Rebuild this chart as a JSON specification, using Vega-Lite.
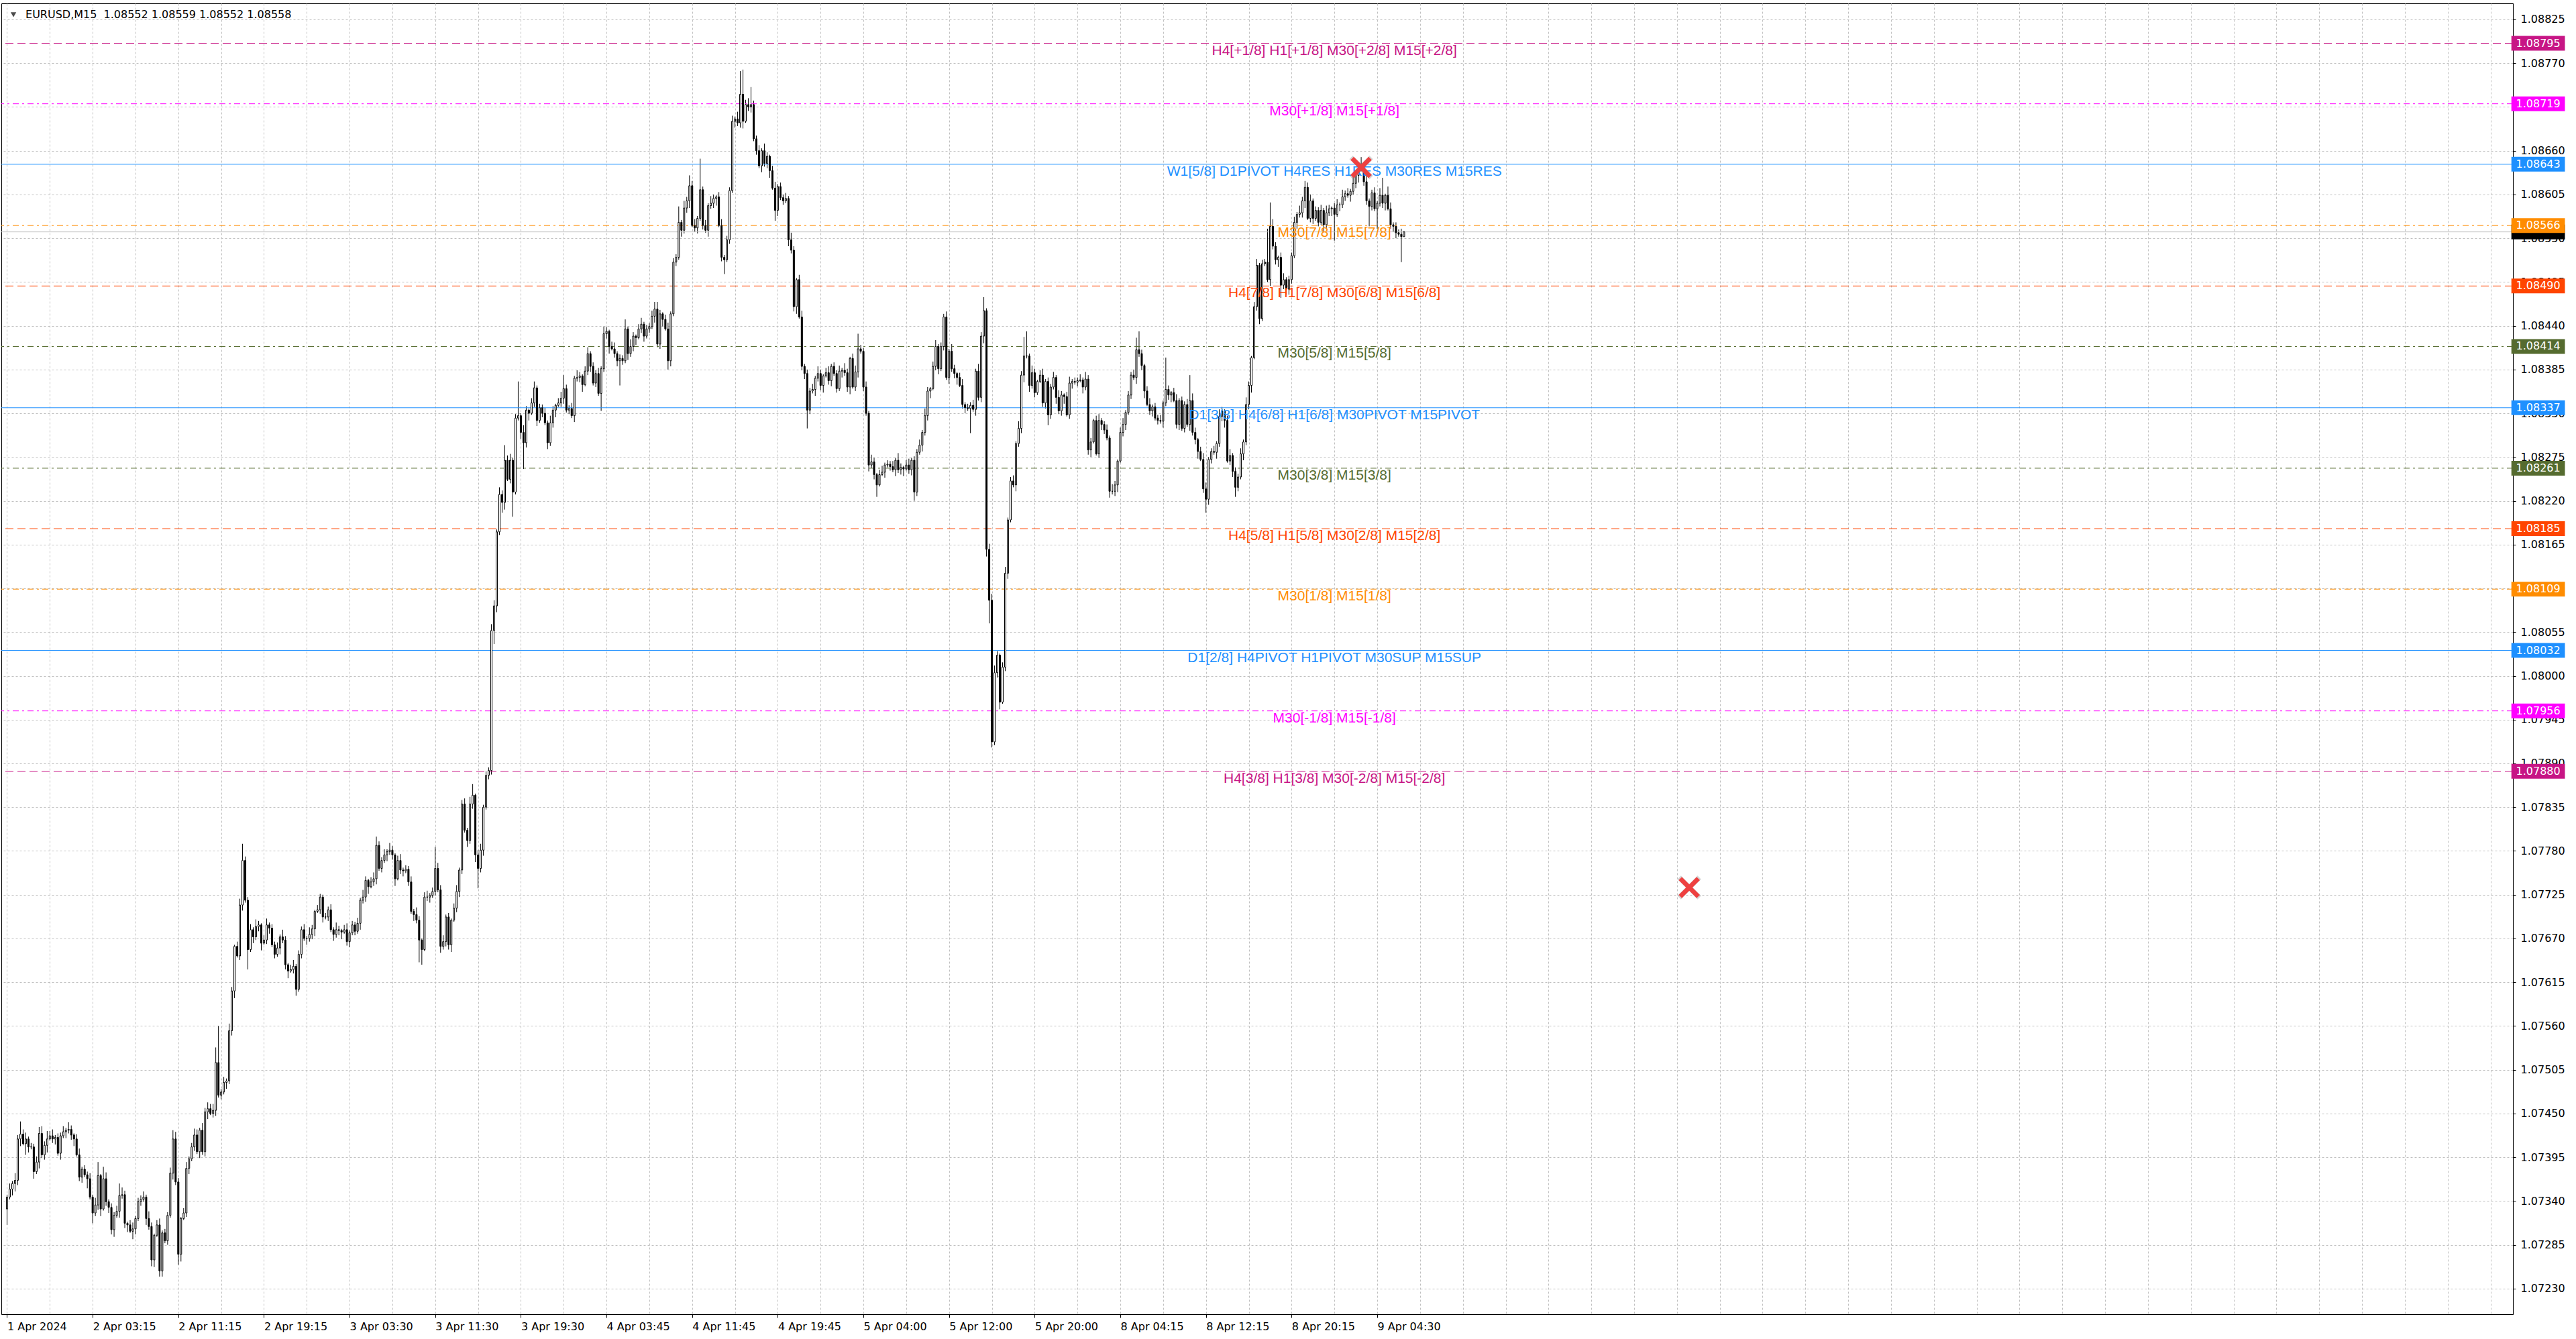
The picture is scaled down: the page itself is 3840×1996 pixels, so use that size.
{
"$schema": "https://vega.github.io/schema/vega-lite/v6.json",
"width": 3744,
"height": 1954,
"autosize": {"type": "none"},
"padding": {"left": 2, "top": 5, "right": 94, "bottom": 37},
"background": "#ffffff",
"config": {"view": {"stroke": "#000000", "strokeWidth": 1}, "axis": {"title": null}},
"datasets": {
"levels": [
{"p":1.08795,"g":"g2","t":"H4[+1/8] H1[+1/8] M30[+2/8] M15[+2/8]"},
{"p":1.08719,"g":"g1","t":"M30[+1/8] M15[+1/8]"},
{"p":1.08643,"g":"res","t":"W1[5/8] D1PIVOT H4RES H1RES M30RES M15RES"},
{"p":1.08566,"g":"g7","t":"M30[7/8] M15[7/8]"},
{"p":1.08490,"g":"g6","t":"H4[7/8] H1[7/8] M30[6/8] M15[6/8]"},
{"p":1.08414,"g":"g5","t":"M30[5/8] M15[5/8]"},
{"p":1.08337,"g":"piv","t":"D1[3/8] H4[6/8] H1[6/8] M30PIVOT M15PIVOT"},
{"p":1.08261,"g":"g5","t":"M30[3/8] M15[3/8]"},
{"p":1.08185,"g":"g6","t":"H4[5/8] H1[5/8] M30[2/8] M15[2/8]"},
{"p":1.08109,"g":"g7","t":"M30[1/8] M15[1/8]"},
{"p":1.08032,"g":"sup","t":"D1[2/8] H4PIVOT H1PIVOT M30SUP M15SUP"},
{"p":1.07956,"g":"g1","t":"M30[-1/8] M15[-1/8]"},
{"p":1.07880,"g":"g2","t":"H4[3/8] H1[3/8] M30[-2/8] M15[-2/8]"}
],
"bid": [{"p":1.08558}],
"crosses": [{"i":506,"p":1.08639},{"i":628.6,"p":1.07734}],
"candles": [
{"i":0,"o":1.07330,"h":1.07348,"l":1.07310,"c":1.07345},
{"i":1,"o":1.07345,"h":1.07362,"l":1.07342,"c":1.07355},
{"i":2,"o":1.07355,"h":1.07365,"l":1.07347,"c":1.07362},
{"i":3,"o":1.07362,"h":1.07375,"l":1.07352,"c":1.07366},
{"i":4,"o":1.07366,"h":1.07423,"l":1.07360,"c":1.07418},
{"i":5,"o":1.07418,"h":1.07440,"l":1.07409,"c":1.07424},
{"i":6,"o":1.07424,"h":1.07430,"l":1.07410,"c":1.07412},
{"i":7,"o":1.07412,"h":1.07426,"l":1.07398,"c":1.07418},
{"i":8,"o":1.07418,"h":1.07421,"l":1.07401,"c":1.07408},
{"i":9,"o":1.07408,"h":1.07413,"l":1.07405,"c":1.07408},
{"i":10,"o":1.07408,"h":1.07412,"l":1.07368,"c":1.07377},
{"i":11,"o":1.07377,"h":1.07396,"l":1.07374,"c":1.07389},
{"i":12,"o":1.07389,"h":1.07433,"l":1.07381,"c":1.07425},
{"i":13,"o":1.07425,"h":1.07434,"l":1.07394,"c":1.07398},
{"i":14,"o":1.07398,"h":1.07415,"l":1.07392,"c":1.07410},
{"i":15,"o":1.07410,"h":1.07428,"l":1.07401,"c":1.07418},
{"i":16,"o":1.07418,"h":1.07428,"l":1.07416,"c":1.07422},
{"i":17,"o":1.07422,"h":1.07430,"l":1.07413,"c":1.07418},
{"i":18,"o":1.07418,"h":1.07423,"l":1.07411,"c":1.07420},
{"i":19,"o":1.07420,"h":1.07425,"l":1.07397,"c":1.07400},
{"i":20,"o":1.07400,"h":1.07426,"l":1.07392,"c":1.07422},
{"i":21,"o":1.07422,"h":1.07434,"l":1.07419,"c":1.07427},
{"i":22,"o":1.07427,"h":1.07432,"l":1.07419,"c":1.07429},
{"i":23,"o":1.07429,"h":1.07439,"l":1.07425,"c":1.07430},
{"i":24,"o":1.07430,"h":1.07435,"l":1.07417,"c":1.07423},
{"i":25,"o":1.07423,"h":1.07425,"l":1.07409,"c":1.07418},
{"i":26,"o":1.07418,"h":1.07424,"l":1.07396,"c":1.07398},
{"i":27,"o":1.07398,"h":1.07406,"l":1.07365,"c":1.07370},
{"i":28,"o":1.07370,"h":1.07383,"l":1.07363,"c":1.07380},
{"i":29,"o":1.07380,"h":1.07385,"l":1.07370,"c":1.07373},
{"i":30,"o":1.07373,"h":1.07377,"l":1.07356,"c":1.07368},
{"i":31,"o":1.07368,"h":1.07375,"l":1.07342,"c":1.07345},
{"i":32,"o":1.07345,"h":1.07348,"l":1.07312,"c":1.07325},
{"i":33,"o":1.07325,"h":1.07344,"l":1.07321,"c":1.07335},
{"i":34,"o":1.07335,"h":1.07389,"l":1.07329,"c":1.07372},
{"i":35,"o":1.07372,"h":1.07374,"l":1.07321,"c":1.07330},
{"i":36,"o":1.07330,"h":1.07383,"l":1.07328,"c":1.07368},
{"i":37,"o":1.07368,"h":1.07376,"l":1.07334,"c":1.07339},
{"i":38,"o":1.07339,"h":1.07342,"l":1.07325,"c":1.07332},
{"i":39,"o":1.07332,"h":1.07337,"l":1.07298,"c":1.07304},
{"i":40,"o":1.07304,"h":1.07326,"l":1.07295,"c":1.07322},
{"i":41,"o":1.07322,"h":1.07334,"l":1.07319,"c":1.07327},
{"i":42,"o":1.07327,"h":1.07362,"l":1.07319,"c":1.07347},
{"i":43,"o":1.07347,"h":1.07357,"l":1.07343,"c":1.07348},
{"i":44,"o":1.07348,"h":1.07353,"l":1.07306,"c":1.07312},
{"i":45,"o":1.07312,"h":1.07314,"l":1.07301,"c":1.07310},
{"i":46,"o":1.07310,"h":1.07316,"l":1.07300,"c":1.07302},
{"i":47,"o":1.07302,"h":1.07313,"l":1.07292,"c":1.07305},
{"i":48,"o":1.07305,"h":1.07321,"l":1.07298,"c":1.07318},
{"i":49,"o":1.07318,"h":1.07344,"l":1.07315,"c":1.07339},
{"i":50,"o":1.07339,"h":1.07347,"l":1.07334,"c":1.07342},
{"i":51,"o":1.07342,"h":1.07352,"l":1.07339,"c":1.07345},
{"i":52,"o":1.07345,"h":1.07348,"l":1.07310,"c":1.07318},
{"i":53,"o":1.07318,"h":1.07327,"l":1.07304,"c":1.07308},
{"i":54,"o":1.07308,"h":1.07313,"l":1.07258,"c":1.07266},
{"i":55,"o":1.07266,"h":1.07299,"l":1.07257,"c":1.07297},
{"i":56,"o":1.07297,"h":1.07316,"l":1.07295,"c":1.07310},
{"i":57,"o":1.07310,"h":1.07318,"l":1.07245,"c":1.07252},
{"i":58,"o":1.07252,"h":1.07303,"l":1.07245,"c":1.07300},
{"i":59,"o":1.07300,"h":1.07305,"l":1.07287,"c":1.07290},
{"i":60,"o":1.07290,"h":1.07326,"l":1.07285,"c":1.07322},
{"i":61,"o":1.07322,"h":1.07382,"l":1.07319,"c":1.07375},
{"i":62,"o":1.07375,"h":1.07429,"l":1.07367,"c":1.07418},
{"i":63,"o":1.07418,"h":1.07427,"l":1.07360,"c":1.07364},
{"i":64,"o":1.07364,"h":1.07369,"l":1.07260,"c":1.07273},
{"i":65,"o":1.07273,"h":1.07320,"l":1.07264,"c":1.07318},
{"i":66,"o":1.07318,"h":1.07331,"l":1.07316,"c":1.07325},
{"i":67,"o":1.07325,"h":1.07389,"l":1.07320,"c":1.07381},
{"i":68,"o":1.07381,"h":1.07396,"l":1.07374,"c":1.07393},
{"i":69,"o":1.07393,"h":1.07413,"l":1.07390,"c":1.07408},
{"i":70,"o":1.07408,"h":1.07431,"l":1.07403,"c":1.07423},
{"i":71,"o":1.07423,"h":1.07430,"l":1.07399,"c":1.07402},
{"i":72,"o":1.07402,"h":1.07432,"l":1.07394,"c":1.07429},
{"i":73,"o":1.07429,"h":1.07438,"l":1.07398,"c":1.07402},
{"i":74,"o":1.07402,"h":1.07457,"l":1.07396,"c":1.07452},
{"i":75,"o":1.07452,"h":1.07464,"l":1.07443,"c":1.07456},
{"i":76,"o":1.07456,"h":1.07462,"l":1.07448,"c":1.07450},
{"i":77,"o":1.07450,"h":1.07462,"l":1.07445,"c":1.07454},
{"i":78,"o":1.07454,"h":1.07533,"l":1.07447,"c":1.07514},
{"i":79,"o":1.07514,"h":1.07560,"l":1.07470,"c":1.07473},
{"i":80,"o":1.07473,"h":1.07481,"l":1.07468,"c":1.07477},
{"i":81,"o":1.07477,"h":1.07496,"l":1.07474,"c":1.07489},
{"i":82,"o":1.07489,"h":1.07494,"l":1.07481,"c":1.07491},
{"i":83,"o":1.07491,"h":1.07563,"l":1.07487,"c":1.07554},
{"i":84,"o":1.07554,"h":1.07609,"l":1.07548,"c":1.07604},
{"i":85,"o":1.07604,"h":1.07662,"l":1.07595,"c":1.07660},
{"i":86,"o":1.07660,"h":1.07666,"l":1.07646,"c":1.07648},
{"i":87,"o":1.07648,"h":1.07720,"l":1.07643,"c":1.07712},
{"i":88,"o":1.07712,"h":1.07789,"l":1.07705,"c":1.07768},
{"i":89,"o":1.07768,"h":1.07773,"l":1.07715,"c":1.07718},
{"i":90,"o":1.07718,"h":1.07722,"l":1.07631,"c":1.07656},
{"i":91,"o":1.07656,"h":1.07688,"l":1.07653,"c":1.07681},
{"i":92,"o":1.07681,"h":1.07684,"l":1.07664,"c":1.07672},
{"i":93,"o":1.07672,"h":1.07694,"l":1.07668,"c":1.07685},
{"i":94,"o":1.07685,"h":1.07692,"l":1.07679,"c":1.07687},
{"i":95,"o":1.07687,"h":1.07689,"l":1.07655,"c":1.07664},
{"i":96,"o":1.07664,"h":1.07674,"l":1.07662,"c":1.07668},
{"i":97,"o":1.07668,"h":1.07695,"l":1.07663,"c":1.07687},
{"i":98,"o":1.07687,"h":1.07690,"l":1.07676,"c":1.07683},
{"i":99,"o":1.07683,"h":1.07688,"l":1.07659,"c":1.07662},
{"i":100,"o":1.07662,"h":1.07666,"l":1.07645,"c":1.07650},
{"i":101,"o":1.07650,"h":1.07665,"l":1.07647,"c":1.07658},
{"i":102,"o":1.07658,"h":1.07675,"l":1.07650,"c":1.07672},
{"i":103,"o":1.07672,"h":1.07681,"l":1.07664,"c":1.07668},
{"i":104,"o":1.07668,"h":1.07673,"l":1.07631,"c":1.07637},
{"i":105,"o":1.07637,"h":1.07639,"l":1.07620,"c":1.07629},
{"i":106,"o":1.07629,"h":1.07637,"l":1.07627,"c":1.07631},
{"i":107,"o":1.07631,"h":1.07643,"l":1.07626,"c":1.07635},
{"i":108,"o":1.07635,"h":1.07638,"l":1.07598,"c":1.07606},
{"i":109,"o":1.07606,"h":1.07655,"l":1.07603,"c":1.07650},
{"i":110,"o":1.07650,"h":1.07685,"l":1.07645,"c":1.07681},
{"i":111,"o":1.07681,"h":1.07688,"l":1.07667,"c":1.07670},
{"i":112,"o":1.07670,"h":1.07673,"l":1.07662,"c":1.07670},
{"i":113,"o":1.07670,"h":1.07684,"l":1.07666,"c":1.07675},
{"i":114,"o":1.07675,"h":1.07687,"l":1.07669,"c":1.07682},
{"i":115,"o":1.07682,"h":1.07706,"l":1.07673,"c":1.07704},
{"i":116,"o":1.07704,"h":1.07712,"l":1.07702,"c":1.07706},
{"i":117,"o":1.07706,"h":1.07726,"l":1.07701,"c":1.07722},
{"i":118,"o":1.07722,"h":1.07725,"l":1.07690,"c":1.07697},
{"i":119,"o":1.07697,"h":1.07702,"l":1.07694,"c":1.07697},
{"i":120,"o":1.07697,"h":1.07710,"l":1.07692,"c":1.07706},
{"i":121,"o":1.07706,"h":1.07713,"l":1.07678,"c":1.07681},
{"i":122,"o":1.07681,"h":1.07684,"l":1.07667,"c":1.07675},
{"i":123,"o":1.07675,"h":1.07690,"l":1.07671,"c":1.07681},
{"i":124,"o":1.07681,"h":1.07686,"l":1.07674,"c":1.07680},
{"i":125,"o":1.07680,"h":1.07682,"l":1.07669,"c":1.07678},
{"i":126,"o":1.07678,"h":1.07687,"l":1.07676,"c":1.07681},
{"i":127,"o":1.07681,"h":1.07689,"l":1.07661,"c":1.07666},
{"i":128,"o":1.07666,"h":1.07680,"l":1.07659,"c":1.07677},
{"i":129,"o":1.07677,"h":1.07692,"l":1.07674,"c":1.07687},
{"i":130,"o":1.07687,"h":1.07691,"l":1.07674,"c":1.07679},
{"i":131,"o":1.07679,"h":1.07696,"l":1.07676,"c":1.07689},
{"i":132,"o":1.07689,"h":1.07721,"l":1.07681,"c":1.07718},
{"i":133,"o":1.07718,"h":1.07731,"l":1.07714,"c":1.07722},
{"i":134,"o":1.07722,"h":1.07748,"l":1.07716,"c":1.07743},
{"i":135,"o":1.07743,"h":1.07745,"l":1.07726,"c":1.07735},
{"i":136,"o":1.07735,"h":1.07747,"l":1.07733,"c":1.07741},
{"i":137,"o":1.07741,"h":1.07753,"l":1.07736,"c":1.07745},
{"i":138,"o":1.07745,"h":1.07798,"l":1.07738,"c":1.07787},
{"i":139,"o":1.07787,"h":1.07792,"l":1.07755,"c":1.07758},
{"i":140,"o":1.07758,"h":1.07772,"l":1.07753,"c":1.07768},
{"i":141,"o":1.07768,"h":1.07782,"l":1.07765,"c":1.07775},
{"i":142,"o":1.07775,"h":1.07782,"l":1.07767,"c":1.07779},
{"i":143,"o":1.07779,"h":1.07790,"l":1.07775,"c":1.07781},
{"i":144,"o":1.07781,"h":1.07786,"l":1.07769,"c":1.07775},
{"i":145,"o":1.07775,"h":1.07777,"l":1.07736,"c":1.07745},
{"i":146,"o":1.07745,"h":1.07774,"l":1.07743,"c":1.07768},
{"i":147,"o":1.07768,"h":1.07776,"l":1.07751,"c":1.07756},
{"i":148,"o":1.07756,"h":1.07759,"l":1.07748,"c":1.07755},
{"i":149,"o":1.07755,"h":1.07762,"l":1.07752,"c":1.07757},
{"i":150,"o":1.07757,"h":1.07761,"l":1.07736,"c":1.07741},
{"i":151,"o":1.07741,"h":1.07748,"l":1.07701,"c":1.07704},
{"i":152,"o":1.07704,"h":1.07707,"l":1.07692,"c":1.07700},
{"i":153,"o":1.07700,"h":1.07709,"l":1.07689,"c":1.07693},
{"i":154,"o":1.07693,"h":1.07698,"l":1.07640,"c":1.07668},
{"i":155,"o":1.07668,"h":1.07670,"l":1.07637,"c":1.07656},
{"i":156,"o":1.07656,"h":1.07728,"l":1.07654,"c":1.07722},
{"i":157,"o":1.07722,"h":1.07730,"l":1.07717,"c":1.07722},
{"i":158,"o":1.07722,"h":1.07727,"l":1.07715,"c":1.07724},
{"i":159,"o":1.07724,"h":1.07734,"l":1.07721,"c":1.07729},
{"i":160,"o":1.07729,"h":1.07785,"l":1.07724,"c":1.07758},
{"i":161,"o":1.07758,"h":1.07765,"l":1.07728,"c":1.07731},
{"i":162,"o":1.07731,"h":1.07737,"l":1.07652,"c":1.07660},
{"i":163,"o":1.07660,"h":1.07674,"l":1.07656,"c":1.07666},
{"i":164,"o":1.07666,"h":1.07700,"l":1.07660,"c":1.07697},
{"i":165,"o":1.07697,"h":1.07702,"l":1.07656,"c":1.07662},
{"i":166,"o":1.07662,"h":1.07695,"l":1.07653,"c":1.07693},
{"i":167,"o":1.07693,"h":1.07714,"l":1.07691,"c":1.07708},
{"i":168,"o":1.07708,"h":1.07737,"l":1.07703,"c":1.07729},
{"i":169,"o":1.07729,"h":1.07759,"l":1.07722,"c":1.07756},
{"i":170,"o":1.07756,"h":1.07844,"l":1.07751,"c":1.07839},
{"i":171,"o":1.07839,"h":1.07846,"l":1.07803,"c":1.07806},
{"i":172,"o":1.07806,"h":1.07809,"l":1.07785,"c":1.07793},
{"i":173,"o":1.07793,"h":1.07848,"l":1.07789,"c":1.07839},
{"i":174,"o":1.07839,"h":1.07864,"l":1.07833,"c":1.07850},
{"i":175,"o":1.07850,"h":1.07852,"l":1.07766,"c":1.07775},
{"i":176,"o":1.07775,"h":1.07781,"l":1.07733,"c":1.07758},
{"i":177,"o":1.07758,"h":1.07789,"l":1.07753,"c":1.07781},
{"i":178,"o":1.07781,"h":1.07838,"l":1.07774,"c":1.07835},
{"i":179,"o":1.07835,"h":1.07880,"l":1.07832,"c":1.07875},
{"i":180,"o":1.07875,"h":1.07885,"l":1.07870,"c":1.07881},
{"i":181,"o":1.07881,"h":1.08065,"l":1.07876,"c":1.08057},
{"i":182,"o":1.08057,"h":1.08095,"l":1.08040,"c":1.08088},
{"i":183,"o":1.08088,"h":1.08184,"l":1.08080,"c":1.08181},
{"i":184,"o":1.08181,"h":1.08237,"l":1.08177,"c":1.08228},
{"i":185,"o":1.08228,"h":1.08233,"l":1.08205,"c":1.08218},
{"i":186,"o":1.08218,"h":1.08290,"l":1.08209,"c":1.08271},
{"i":187,"o":1.08271,"h":1.08277,"l":1.08245,"c":1.08247},
{"i":188,"o":1.08247,"h":1.08279,"l":1.08242,"c":1.08271},
{"i":189,"o":1.08271,"h":1.08274,"l":1.08200,"c":1.08231},
{"i":190,"o":1.08231,"h":1.08329,"l":1.08228,"c":1.08324},
{"i":191,"o":1.08324,"h":1.08370,"l":1.08321,"c":1.08327},
{"i":192,"o":1.08327,"h":1.08330,"l":1.08298,"c":1.08306},
{"i":193,"o":1.08306,"h":1.08315,"l":1.08260,"c":1.08293},
{"i":194,"o":1.08293,"h":1.08339,"l":1.08287,"c":1.08334},
{"i":195,"o":1.08334,"h":1.08336,"l":1.08321,"c":1.08330},
{"i":196,"o":1.08330,"h":1.08349,"l":1.08328,"c":1.08343},
{"i":197,"o":1.08343,"h":1.08370,"l":1.08338,"c":1.08362},
{"i":198,"o":1.08362,"h":1.08365,"l":1.08314,"c":1.08321},
{"i":199,"o":1.08321,"h":1.08342,"l":1.08318,"c":1.08337},
{"i":200,"o":1.08337,"h":1.08341,"l":1.08325,"c":1.08330},
{"i":201,"o":1.08330,"h":1.08337,"l":1.08315,"c":1.08318},
{"i":202,"o":1.08318,"h":1.08321,"l":1.08285,"c":1.08293},
{"i":203,"o":1.08293,"h":1.08327,"l":1.08289,"c":1.08318},
{"i":204,"o":1.08318,"h":1.08339,"l":1.08312,"c":1.08334},
{"i":205,"o":1.08334,"h":1.08342,"l":1.08325,"c":1.08340},
{"i":206,"o":1.08340,"h":1.08349,"l":1.08338,"c":1.08343},
{"i":207,"o":1.08343,"h":1.08357,"l":1.08338,"c":1.08349},
{"i":208,"o":1.08349,"h":1.08378,"l":1.08342,"c":1.08361},
{"i":209,"o":1.08361,"h":1.08366,"l":1.08331,"c":1.08334},
{"i":210,"o":1.08334,"h":1.08340,"l":1.08329,"c":1.08336},
{"i":211,"o":1.08336,"h":1.08343,"l":1.08324,"c":1.08327},
{"i":212,"o":1.08327,"h":1.08377,"l":1.08319,"c":1.08374},
{"i":213,"o":1.08374,"h":1.08384,"l":1.08370,"c":1.08375},
{"i":214,"o":1.08375,"h":1.08382,"l":1.08369,"c":1.08377},
{"i":215,"o":1.08377,"h":1.08379,"l":1.08357,"c":1.08366},
{"i":216,"o":1.08366,"h":1.08389,"l":1.08364,"c":1.08383},
{"i":217,"o":1.08383,"h":1.08413,"l":1.08378,"c":1.08405},
{"i":218,"o":1.08405,"h":1.08408,"l":1.08382,"c":1.08389},
{"i":219,"o":1.08389,"h":1.08394,"l":1.08365,"c":1.08368},
{"i":220,"o":1.08368,"h":1.08384,"l":1.08363,"c":1.08380},
{"i":221,"o":1.08380,"h":1.08387,"l":1.08352,"c":1.08355},
{"i":222,"o":1.08355,"h":1.08389,"l":1.08333,"c":1.08386},
{"i":223,"o":1.08386,"h":1.08439,"l":1.08382,"c":1.08430},
{"i":224,"o":1.08430,"h":1.08438,"l":1.08424,"c":1.08433},
{"i":225,"o":1.08433,"h":1.08435,"l":1.08405,"c":1.08414},
{"i":226,"o":1.08414,"h":1.08420,"l":1.08409,"c":1.08411},
{"i":227,"o":1.08411,"h":1.08419,"l":1.08400,"c":1.08405},
{"i":228,"o":1.08405,"h":1.08408,"l":1.08389,"c":1.08396},
{"i":229,"o":1.08396,"h":1.08404,"l":1.08365,"c":1.08399},
{"i":230,"o":1.08399,"h":1.08403,"l":1.08391,"c":1.08396},
{"i":231,"o":1.08396,"h":1.08448,"l":1.08393,"c":1.08436},
{"i":232,"o":1.08436,"h":1.08439,"l":1.08397,"c":1.08405},
{"i":233,"o":1.08405,"h":1.08423,"l":1.08401,"c":1.08414},
{"i":234,"o":1.08414,"h":1.08432,"l":1.08408,"c":1.08427},
{"i":235,"o":1.08427,"h":1.08429,"l":1.08416,"c":1.08425},
{"i":236,"o":1.08425,"h":1.08442,"l":1.08423,"c":1.08436},
{"i":237,"o":1.08436,"h":1.08450,"l":1.08431,"c":1.08442},
{"i":238,"o":1.08442,"h":1.08445,"l":1.08420,"c":1.08427},
{"i":239,"o":1.08427,"h":1.08441,"l":1.08424,"c":1.08436},
{"i":240,"o":1.08436,"h":1.08443,"l":1.08431,"c":1.08439},
{"i":241,"o":1.08439,"h":1.08459,"l":1.08436,"c":1.08452},
{"i":242,"o":1.08452,"h":1.08470,"l":1.08444,"c":1.08461},
{"i":243,"o":1.08461,"h":1.08470,"l":1.08413,"c":1.08417},
{"i":244,"o":1.08417,"h":1.08460,"l":1.08411,"c":1.08455},
{"i":245,"o":1.08455,"h":1.08457,"l":1.08439,"c":1.08448},
{"i":246,"o":1.08448,"h":1.08454,"l":1.08434,"c":1.08436},
{"i":247,"o":1.08436,"h":1.08444,"l":1.08385,"c":1.08396},
{"i":248,"o":1.08396,"h":1.08458,"l":1.08389,"c":1.08455},
{"i":249,"o":1.08455,"h":1.08525,"l":1.08452,"c":1.08520},
{"i":250,"o":1.08520,"h":1.08530,"l":1.08515,"c":1.08526},
{"i":251,"o":1.08526,"h":1.08590,"l":1.08523,"c":1.08570},
{"i":252,"o":1.08570,"h":1.08573,"l":1.08552,"c":1.08560},
{"i":253,"o":1.08560,"h":1.08597,"l":1.08556,"c":1.08588},
{"i":254,"o":1.08588,"h":1.08602,"l":1.08582,"c":1.08597},
{"i":255,"o":1.08597,"h":1.08629,"l":1.08588,"c":1.08616},
{"i":256,"o":1.08616,"h":1.08622,"l":1.08564,"c":1.08566},
{"i":257,"o":1.08566,"h":1.08574,"l":1.08558,"c":1.08563},
{"i":258,"o":1.08563,"h":1.08578,"l":1.08556,"c":1.08575},
{"i":259,"o":1.08575,"h":1.08650,"l":1.08572,"c":1.08611},
{"i":260,"o":1.08611,"h":1.08615,"l":1.08561,"c":1.08566},
{"i":261,"o":1.08566,"h":1.08573,"l":1.08557,"c":1.08560},
{"i":262,"o":1.08560,"h":1.08594,"l":1.08552,"c":1.08591},
{"i":263,"o":1.08591,"h":1.08603,"l":1.08587,"c":1.08594},
{"i":264,"o":1.08594,"h":1.08605,"l":1.08588,"c":1.08600},
{"i":265,"o":1.08600,"h":1.08604,"l":1.08591,"c":1.08602},
{"i":266,"o":1.08602,"h":1.08608,"l":1.08564,"c":1.08566},
{"i":267,"o":1.08566,"h":1.08574,"l":1.08521,"c":1.08526},
{"i":268,"o":1.08526,"h":1.08529,"l":1.08505,"c":1.08523},
{"i":269,"o":1.08523,"h":1.08553,"l":1.08520,"c":1.08548},
{"i":270,"o":1.08548,"h":1.08614,"l":1.08543,"c":1.08610},
{"i":271,"o":1.08610,"h":1.08704,"l":1.08607,"c":1.08697},
{"i":272,"o":1.08697,"h":1.08703,"l":1.08689,"c":1.08700},
{"i":273,"o":1.08700,"h":1.08709,"l":1.08691,"c":1.08695},
{"i":274,"o":1.08695,"h":1.08760,"l":1.08689,"c":1.08731},
{"i":275,"o":1.08731,"h":1.08762,"l":1.08688,"c":1.08697},
{"i":276,"o":1.08697,"h":1.08724,"l":1.08695,"c":1.08718},
{"i":277,"o":1.08718,"h":1.08726,"l":1.08710,"c":1.08715},
{"i":278,"o":1.08715,"h":1.08740,"l":1.08708,"c":1.08718},
{"i":279,"o":1.08718,"h":1.08723,"l":1.08672,"c":1.08675},
{"i":280,"o":1.08675,"h":1.08679,"l":1.08655,"c":1.08660},
{"i":281,"o":1.08660,"h":1.08667,"l":1.08638,"c":1.08641},
{"i":282,"o":1.08641,"h":1.08663,"l":1.08633,"c":1.08660},
{"i":283,"o":1.08660,"h":1.08669,"l":1.08640,"c":1.08644},
{"i":284,"o":1.08644,"h":1.08658,"l":1.08638,"c":1.08653},
{"i":285,"o":1.08653,"h":1.08655,"l":1.08626,"c":1.08635},
{"i":286,"o":1.08635,"h":1.08641,"l":1.08611,"c":1.08613},
{"i":287,"o":1.08613,"h":1.08621,"l":1.08572,"c":1.08585},
{"i":288,"o":1.08585,"h":1.08618,"l":1.08578,"c":1.08615},
{"i":289,"o":1.08615,"h":1.08620,"l":1.08598,"c":1.08601},
{"i":290,"o":1.08601,"h":1.08605,"l":1.08592,"c":1.08597},
{"i":291,"o":1.08597,"h":1.08607,"l":1.08594,"c":1.08600},
{"i":292,"o":1.08600,"h":1.08603,"l":1.08540,"c":1.08548},
{"i":293,"o":1.08548,"h":1.08557,"l":1.08531,"c":1.08535},
{"i":294,"o":1.08535,"h":1.08540,"l":1.08458,"c":1.08464},
{"i":295,"o":1.08464,"h":1.08500,"l":1.08455,"c":1.08498},
{"i":296,"o":1.08498,"h":1.08504,"l":1.08449,"c":1.08451},
{"i":297,"o":1.08451,"h":1.08459,"l":1.08384,"c":1.08389},
{"i":298,"o":1.08389,"h":1.08392,"l":1.08373,"c":1.08380},
{"i":299,"o":1.08380,"h":1.08385,"l":1.08311,"c":1.08334},
{"i":300,"o":1.08334,"h":1.08362,"l":1.08329,"c":1.08358},
{"i":301,"o":1.08358,"h":1.08367,"l":1.08355,"c":1.08360},
{"i":302,"o":1.08360,"h":1.08377,"l":1.08352,"c":1.08374},
{"i":303,"o":1.08374,"h":1.08389,"l":1.08370,"c":1.08380},
{"i":304,"o":1.08380,"h":1.08385,"l":1.08359,"c":1.08365},
{"i":305,"o":1.08365,"h":1.08379,"l":1.08356,"c":1.08377},
{"i":306,"o":1.08377,"h":1.08387,"l":1.08375,"c":1.08381},
{"i":307,"o":1.08381,"h":1.08389,"l":1.08366,"c":1.08371},
{"i":308,"o":1.08371,"h":1.08392,"l":1.08364,"c":1.08389},
{"i":309,"o":1.08389,"h":1.08394,"l":1.08377,"c":1.08380},
{"i":310,"o":1.08380,"h":1.08384,"l":1.08356,"c":1.08361},
{"i":311,"o":1.08361,"h":1.08390,"l":1.08358,"c":1.08383},
{"i":312,"o":1.08383,"h":1.08387,"l":1.08375,"c":1.08384},
{"i":313,"o":1.08384,"h":1.08393,"l":1.08377,"c":1.08381},
{"i":314,"o":1.08381,"h":1.08386,"l":1.08357,"c":1.08363},
{"i":315,"o":1.08363,"h":1.08401,"l":1.08354,"c":1.08399},
{"i":316,"o":1.08399,"h":1.08405,"l":1.08361,"c":1.08363},
{"i":317,"o":1.08363,"h":1.08390,"l":1.08358,"c":1.08382},
{"i":318,"o":1.08382,"h":1.08430,"l":1.08375,"c":1.08411},
{"i":319,"o":1.08411,"h":1.08416,"l":1.08405,"c":1.08408},
{"i":320,"o":1.08408,"h":1.08412,"l":1.08358,"c":1.08363},
{"i":321,"o":1.08363,"h":1.08370,"l":1.08327,"c":1.08330},
{"i":322,"o":1.08330,"h":1.08333,"l":1.08257,"c":1.08265},
{"i":323,"o":1.08265,"h":1.08278,"l":1.08261,"c":1.08269},
{"i":324,"o":1.08269,"h":1.08274,"l":1.08247,"c":1.08253},
{"i":325,"o":1.08253,"h":1.08255,"l":1.08225,"c":1.08240},
{"i":326,"o":1.08240,"h":1.08259,"l":1.08238,"c":1.08253},
{"i":327,"o":1.08253,"h":1.08264,"l":1.08251,"c":1.08256},
{"i":328,"o":1.08256,"h":1.08268,"l":1.08249,"c":1.08265},
{"i":329,"o":1.08265,"h":1.08271,"l":1.08262,"c":1.08266},
{"i":330,"o":1.08266,"h":1.08270,"l":1.08258,"c":1.08263},
{"i":331,"o":1.08263,"h":1.08270,"l":1.08256,"c":1.08259},
{"i":332,"o":1.08259,"h":1.08274,"l":1.08251,"c":1.08271},
{"i":333,"o":1.08271,"h":1.08280,"l":1.08255,"c":1.08259},
{"i":334,"o":1.08259,"h":1.08267,"l":1.08253,"c":1.08262},
{"i":335,"o":1.08262,"h":1.08264,"l":1.08251,"c":1.08260},
{"i":336,"o":1.08260,"h":1.08271,"l":1.08258,"c":1.08265},
{"i":337,"o":1.08265,"h":1.08273,"l":1.08254,"c":1.08259},
{"i":338,"o":1.08259,"h":1.08274,"l":1.08252,"c":1.08271},
{"i":339,"o":1.08271,"h":1.08276,"l":1.08220,"c":1.08231},
{"i":340,"o":1.08231,"h":1.08285,"l":1.08226,"c":1.08281},
{"i":341,"o":1.08281,"h":1.08297,"l":1.08278,"c":1.08290},
{"i":342,"o":1.08290,"h":1.08309,"l":1.08282,"c":1.08306},
{"i":343,"o":1.08306,"h":1.08336,"l":1.08302,"c":1.08327},
{"i":344,"o":1.08327,"h":1.08363,"l":1.08321,"c":1.08358},
{"i":345,"o":1.08358,"h":1.08363,"l":1.08349,"c":1.08361},
{"i":346,"o":1.08361,"h":1.08395,"l":1.08359,"c":1.08389},
{"i":347,"o":1.08389,"h":1.08422,"l":1.08384,"c":1.08414},
{"i":348,"o":1.08414,"h":1.08417,"l":1.08379,"c":1.08386},
{"i":349,"o":1.08386,"h":1.08419,"l":1.08383,"c":1.08414},
{"i":350,"o":1.08414,"h":1.08455,"l":1.08409,"c":1.08451},
{"i":351,"o":1.08451,"h":1.08458,"l":1.08372,"c":1.08375},
{"i":352,"o":1.08375,"h":1.08411,"l":1.08367,"c":1.08408},
{"i":353,"o":1.08408,"h":1.08417,"l":1.08382,"c":1.08386},
{"i":354,"o":1.08386,"h":1.08391,"l":1.08374,"c":1.08380},
{"i":355,"o":1.08380,"h":1.08382,"l":1.08366,"c":1.08375},
{"i":356,"o":1.08375,"h":1.08381,"l":1.08363,"c":1.08365},
{"i":357,"o":1.08365,"h":1.08373,"l":1.08336,"c":1.08341},
{"i":358,"o":1.08341,"h":1.08344,"l":1.08330,"c":1.08337},
{"i":359,"o":1.08337,"h":1.08342,"l":1.08333,"c":1.08336},
{"i":360,"o":1.08336,"h":1.08344,"l":1.08305,"c":1.08340},
{"i":361,"o":1.08340,"h":1.08347,"l":1.08332,"c":1.08335},
{"i":362,"o":1.08335,"h":1.08386,"l":1.08327,"c":1.08383},
{"i":363,"o":1.08383,"h":1.08392,"l":1.08346,"c":1.08350},
{"i":364,"o":1.08350,"h":1.08432,"l":1.08344,"c":1.08427},
{"i":365,"o":1.08427,"h":1.08476,"l":1.08418,"c":1.08459},
{"i":366,"o":1.08459,"h":1.08462,"l":1.08150,"c":1.08159},
{"i":367,"o":1.08159,"h":1.08166,"l":1.08066,"c":1.08095},
{"i":368,"o":1.08095,"h":1.08103,"l":1.07910,"c":1.07917},
{"i":369,"o":1.07917,"h":1.08013,"l":1.07913,"c":1.08004},
{"i":370,"o":1.08004,"h":1.08031,"l":1.07998,"c":1.08026},
{"i":371,"o":1.08026,"h":1.08028,"l":1.07958,"c":1.07967},
{"i":372,"o":1.07967,"h":1.08017,"l":1.07965,"c":1.08011},
{"i":373,"o":1.08011,"h":1.08137,"l":1.08006,"c":1.08129},
{"i":374,"o":1.08129,"h":1.08199,"l":1.08122,"c":1.08196},
{"i":375,"o":1.08196,"h":1.08250,"l":1.08193,"c":1.08245},
{"i":376,"o":1.08245,"h":1.08252,"l":1.08237,"c":1.08240},
{"i":377,"o":1.08240,"h":1.08295,"l":1.08232,"c":1.08292},
{"i":378,"o":1.08292,"h":1.08320,"l":1.08288,"c":1.08311},
{"i":379,"o":1.08311,"h":1.08383,"l":1.08305,"c":1.08378},
{"i":380,"o":1.08378,"h":1.08426,"l":1.08369,"c":1.08402},
{"i":381,"o":1.08402,"h":1.08433,"l":1.08399,"c":1.08402},
{"i":382,"o":1.08402,"h":1.08405,"l":1.08357,"c":1.08365},
{"i":383,"o":1.08365,"h":1.08390,"l":1.08361,"c":1.08381},
{"i":384,"o":1.08381,"h":1.08386,"l":1.08350,"c":1.08356},
{"i":385,"o":1.08356,"h":1.08372,"l":1.08353,"c":1.08370},
{"i":386,"o":1.08370,"h":1.08384,"l":1.08368,"c":1.08378},
{"i":387,"o":1.08378,"h":1.08386,"l":1.08338,"c":1.08343},
{"i":388,"o":1.08343,"h":1.08373,"l":1.08336,"c":1.08370},
{"i":389,"o":1.08370,"h":1.08375,"l":1.08315,"c":1.08328},
{"i":390,"o":1.08328,"h":1.08367,"l":1.08323,"c":1.08363},
{"i":391,"o":1.08363,"h":1.08382,"l":1.08360,"c":1.08375},
{"i":392,"o":1.08375,"h":1.08378,"l":1.08342,"c":1.08350},
{"i":393,"o":1.08350,"h":1.08359,"l":1.08329,"c":1.08333},
{"i":394,"o":1.08333,"h":1.08358,"l":1.08327,"c":1.08353},
{"i":395,"o":1.08353,"h":1.08355,"l":1.08342,"c":1.08351},
{"i":396,"o":1.08351,"h":1.08357,"l":1.08326,"c":1.08328},
{"i":397,"o":1.08328,"h":1.08376,"l":1.08323,"c":1.08368},
{"i":398,"o":1.08368,"h":1.08373,"l":1.08361,"c":1.08370},
{"i":399,"o":1.08370,"h":1.08375,"l":1.08366,"c":1.08369},
{"i":400,"o":1.08369,"h":1.08375,"l":1.08364,"c":1.08371},
{"i":401,"o":1.08371,"h":1.08379,"l":1.08369,"c":1.08372},
{"i":402,"o":1.08372,"h":1.08375,"l":1.08355,"c":1.08363},
{"i":403,"o":1.08363,"h":1.08382,"l":1.08359,"c":1.08373},
{"i":404,"o":1.08373,"h":1.08378,"l":1.08278,"c":1.08284},
{"i":405,"o":1.08284,"h":1.08299,"l":1.08275,"c":1.08294},
{"i":406,"o":1.08294,"h":1.08323,"l":1.08292,"c":1.08321},
{"i":407,"o":1.08321,"h":1.08327,"l":1.08277,"c":1.08279},
{"i":408,"o":1.08279,"h":1.08329,"l":1.08274,"c":1.08321},
{"i":409,"o":1.08321,"h":1.08324,"l":1.08309,"c":1.08316},
{"i":410,"o":1.08316,"h":1.08320,"l":1.08304,"c":1.08309},
{"i":411,"o":1.08309,"h":1.08316,"l":1.08296,"c":1.08299},
{"i":412,"o":1.08299,"h":1.08302,"l":1.08224,"c":1.08232},
{"i":413,"o":1.08232,"h":1.08241,"l":1.08228,"c":1.08232},
{"i":414,"o":1.08232,"h":1.08245,"l":1.08226,"c":1.08240},
{"i":415,"o":1.08240,"h":1.08272,"l":1.08231,"c":1.08270},
{"i":416,"o":1.08270,"h":1.08312,"l":1.08268,"c":1.08306},
{"i":417,"o":1.08306,"h":1.08324,"l":1.08301,"c":1.08316},
{"i":418,"o":1.08316,"h":1.08334,"l":1.08309,"c":1.08331},
{"i":419,"o":1.08331,"h":1.08358,"l":1.08328,"c":1.08353},
{"i":420,"o":1.08353,"h":1.08382,"l":1.08348,"c":1.08378},
{"i":421,"o":1.08378,"h":1.08385,"l":1.08372,"c":1.08375},
{"i":422,"o":1.08375,"h":1.08425,"l":1.08367,"c":1.08410},
{"i":423,"o":1.08410,"h":1.08433,"l":1.08401,"c":1.08405},
{"i":424,"o":1.08405,"h":1.08410,"l":1.08384,"c":1.08390},
{"i":425,"o":1.08390,"h":1.08392,"l":1.08349,"c":1.08358},
{"i":426,"o":1.08358,"h":1.08364,"l":1.08339,"c":1.08341},
{"i":427,"o":1.08341,"h":1.08349,"l":1.08328,"c":1.08333},
{"i":428,"o":1.08333,"h":1.08341,"l":1.08326,"c":1.08338},
{"i":429,"o":1.08338,"h":1.08343,"l":1.08321,"c":1.08324},
{"i":430,"o":1.08324,"h":1.08328,"l":1.08316,"c":1.08321},
{"i":431,"o":1.08321,"h":1.08328,"l":1.08317,"c":1.08320},
{"i":432,"o":1.08320,"h":1.08346,"l":1.08312,"c":1.08343},
{"i":433,"o":1.08343,"h":1.08400,"l":1.08339,"c":1.08360},
{"i":434,"o":1.08360,"h":1.08365,"l":1.08347,"c":1.08353},
{"i":435,"o":1.08353,"h":1.08358,"l":1.08344,"c":1.08356},
{"i":436,"o":1.08356,"h":1.08362,"l":1.08344,"c":1.08346},
{"i":437,"o":1.08346,"h":1.08354,"l":1.08311,"c":1.08316},
{"i":438,"o":1.08316,"h":1.08349,"l":1.08309,"c":1.08346},
{"i":439,"o":1.08346,"h":1.08351,"l":1.08308,"c":1.08311},
{"i":440,"o":1.08311,"h":1.08345,"l":1.08306,"c":1.08341},
{"i":441,"o":1.08341,"h":1.08348,"l":1.08313,"c":1.08316},
{"i":442,"o":1.08316,"h":1.08378,"l":1.08308,"c":1.08346},
{"i":443,"o":1.08346,"h":1.08355,"l":1.08302,"c":1.08306},
{"i":444,"o":1.08306,"h":1.08312,"l":1.08291,"c":1.08297},
{"i":445,"o":1.08297,"h":1.08299,"l":1.08273,"c":1.08282},
{"i":446,"o":1.08282,"h":1.08288,"l":1.08270,"c":1.08272},
{"i":447,"o":1.08272,"h":1.08280,"l":1.08230,"c":1.08235},
{"i":448,"o":1.08235,"h":1.08243,"l":1.08205,"c":1.08222},
{"i":449,"o":1.08222,"h":1.08275,"l":1.08215,"c":1.08272},
{"i":450,"o":1.08272,"h":1.08286,"l":1.08267,"c":1.08282},
{"i":451,"o":1.08282,"h":1.08289,"l":1.08278,"c":1.08281},
{"i":452,"o":1.08281,"h":1.08295,"l":1.08273,"c":1.08292},
{"i":453,"o":1.08292,"h":1.08335,"l":1.08288,"c":1.08326},
{"i":454,"o":1.08326,"h":1.08338,"l":1.08320,"c":1.08333},
{"i":455,"o":1.08333,"h":1.08335,"l":1.08312,"c":1.08321},
{"i":456,"o":1.08321,"h":1.08327,"l":1.08268,"c":1.08270},
{"i":457,"o":1.08270,"h":1.08285,"l":1.08265,"c":1.08277},
{"i":458,"o":1.08277,"h":1.08280,"l":1.08250,"c":1.08257},
{"i":459,"o":1.08257,"h":1.08262,"l":1.08225,"c":1.08237},
{"i":460,"o":1.08237,"h":1.08254,"l":1.08232,"c":1.08250},
{"i":461,"o":1.08250,"h":1.08286,"l":1.08247,"c":1.08279},
{"i":462,"o":1.08279,"h":1.08297,"l":1.08271,"c":1.08294},
{"i":463,"o":1.08294,"h":1.08350,"l":1.08290,"c":1.08341},
{"i":464,"o":1.08341,"h":1.08370,"l":1.08335,"c":1.08365},
{"i":465,"o":1.08365,"h":1.08402,"l":1.08356,"c":1.08400},
{"i":466,"o":1.08400,"h":1.08470,"l":1.08398,"c":1.08464},
{"i":467,"o":1.08464,"h":1.08524,"l":1.08459,"c":1.08516},
{"i":468,"o":1.08516,"h":1.08519,"l":1.08442,"c":1.08449},
{"i":469,"o":1.08449,"h":1.08523,"l":1.08446,"c":1.08518},
{"i":470,"o":1.08518,"h":1.08524,"l":1.08515,"c":1.08520},
{"i":471,"o":1.08520,"h":1.08562,"l":1.08495,"c":1.08498},
{"i":472,"o":1.08498,"h":1.08595,"l":1.08490,"c":1.08565},
{"i":473,"o":1.08565,"h":1.08574,"l":1.08536,"c":1.08540},
{"i":474,"o":1.08540,"h":1.08545,"l":1.08517,"c":1.08523},
{"i":475,"o":1.08523,"h":1.08528,"l":1.08514,"c":1.08526},
{"i":476,"o":1.08526,"h":1.08532,"l":1.08475,"c":1.08491},
{"i":477,"o":1.08491,"h":1.08506,"l":1.08486,"c":1.08498},
{"i":478,"o":1.08498,"h":1.08501,"l":1.08479,"c":1.08486},
{"i":479,"o":1.08486,"h":1.08503,"l":1.08479,"c":1.08498},
{"i":480,"o":1.08498,"h":1.08532,"l":1.08493,"c":1.08528},
{"i":481,"o":1.08528,"h":1.08577,"l":1.08525,"c":1.08570},
{"i":482,"o":1.08570,"h":1.08583,"l":1.08562,"c":1.08580},
{"i":483,"o":1.08580,"h":1.08591,"l":1.08576,"c":1.08582},
{"i":484,"o":1.08582,"h":1.08602,"l":1.08576,"c":1.08597},
{"i":485,"o":1.08597,"h":1.08622,"l":1.08588,"c":1.08614},
{"i":486,"o":1.08614,"h":1.08620,"l":1.08573,"c":1.08575},
{"i":487,"o":1.08575,"h":1.08605,"l":1.08570,"c":1.08597},
{"i":488,"o":1.08597,"h":1.08600,"l":1.08568,"c":1.08575},
{"i":489,"o":1.08575,"h":1.08590,"l":1.08572,"c":1.08585},
{"i":490,"o":1.08585,"h":1.08589,"l":1.08565,"c":1.08570},
{"i":491,"o":1.08570,"h":1.08592,"l":1.08567,"c":1.08585},
{"i":492,"o":1.08585,"h":1.08588,"l":1.08559,"c":1.08567},
{"i":493,"o":1.08567,"h":1.08591,"l":1.08563,"c":1.08582},
{"i":494,"o":1.08582,"h":1.08592,"l":1.08578,"c":1.08587},
{"i":495,"o":1.08587,"h":1.08590,"l":1.08578,"c":1.08588},
{"i":496,"o":1.08588,"h":1.08594,"l":1.08547,"c":1.08580},
{"i":497,"o":1.08580,"h":1.08599,"l":1.08577,"c":1.08592},
{"i":498,"o":1.08592,"h":1.08595,"l":1.08584,"c":1.08592},
{"i":499,"o":1.08592,"h":1.08611,"l":1.08588,"c":1.08602},
{"i":500,"o":1.08602,"h":1.08610,"l":1.08597,"c":1.08606},
{"i":501,"o":1.08606,"h":1.08613,"l":1.08601,"c":1.08604},
{"i":502,"o":1.08604,"h":1.08612,"l":1.08596,"c":1.08609},
{"i":503,"o":1.08609,"h":1.08628,"l":1.08605,"c":1.08619},
{"i":504,"o":1.08619,"h":1.08634,"l":1.08613,"c":1.08629},
{"i":505,"o":1.08629,"h":1.08638,"l":1.08620,"c":1.08636},
{"i":506,"o":1.08636,"h":1.08652,"l":1.08634,"c":1.08636},
{"i":507,"o":1.08636,"h":1.08644,"l":1.08616,"c":1.08621},
{"i":508,"o":1.08621,"h":1.08629,"l":1.08592,"c":1.08597},
{"i":509,"o":1.08597,"h":1.08600,"l":1.08565,"c":1.08590},
{"i":510,"o":1.08590,"h":1.08611,"l":1.08585,"c":1.08607},
{"i":511,"o":1.08607,"h":1.08614,"l":1.08584,"c":1.08587},
{"i":512,"o":1.08587,"h":1.08597,"l":1.08562,"c":1.08594},
{"i":513,"o":1.08594,"h":1.08613,"l":1.08590,"c":1.08604},
{"i":514,"o":1.08604,"h":1.08626,"l":1.08588,"c":1.08594},
{"i":515,"o":1.08594,"h":1.08606,"l":1.08585,"c":1.08604},
{"i":516,"o":1.08604,"h":1.08615,"l":1.08585,"c":1.08587},
{"i":517,"o":1.08587,"h":1.08595,"l":1.08562,"c":1.08567},
{"i":518,"o":1.08567,"h":1.08570,"l":1.08558,"c":1.08565},
{"i":519,"o":1.08565,"h":1.08570,"l":1.08550,"c":1.08557},
{"i":520,"o":1.08557,"h":1.08561,"l":1.08552,"c":1.08555},
{"i":521,"o":1.08555,"h":1.08562,"l":1.08520,"c":1.08552},
{"i":522,"o":1.08552,"h":1.08559,"l":1.08552,"c":1.08558}
]
},
"layer": [
{
"data": {"name": "candles"},
"mark": {"type": "rule", "color": "#000000", "strokeWidth": 1},
"encoding": {
"x": {"field": "i", "type": "quantitative", "scale": {"domain": [-0.875, 935.125], "nice": false, "zero": false},
"axis": {"orient": "bottom", "values": [0,16,32,48,64,80,96,112,128,144,160,176,192,208,224,240,256,272,288,304,320,336,352,368,384,400,416,432,448,464,480,496,512,528,544,560,576,592,608,624,640,656,672,688,704,720,736,752,768,784,800,816,832,848,864,880,896,912,928],
"grid": true, "gridColor": "#c0c0c0", "gridDash": [3,3], "gridWidth": 1,
"domain": true, "domainColor": "#000000", "domainWidth": 1,
"ticks": true, "tickColor": "#000000", "tickSize": 5, "tickWidth": 1,
"tickOpacity": {"condition": {"test": "datum.value % 32 === 0 && datum.value <= 512", "value": 1}, "value": 0},
"labelExpr": "datum.value % 32 === 0 && datum.value <= 512 ? ['1 Apr 2024','2 Apr 03:15','2 Apr 11:15','2 Apr 19:15','3 Apr 03:30','3 Apr 11:30','3 Apr 19:30','4 Apr 03:45','4 Apr 11:45','4 Apr 19:45','5 Apr 04:00','5 Apr 12:00','5 Apr 20:00','8 Apr 04:15','8 Apr 12:15','8 Apr 20:15','9 Apr 04:30'][datum.value / 32] : ''",
"labelAlign": "left", "labelBaseline": "top", "labelPadding": 5, "labelFont": "DejaVu Sans", "labelFontSize": 16, "labelColor": "#000000",
"labelOverlap": false, "labelBound": false, "labelFlush": false, "title": null}},
"y": {"field": "l", "type": "quantitative", "scale": {"domain": [1.07202, 1.08841], "nice": false, "zero": false},
"axis": {"orient": "right", "values": [1.0723,1.07285,1.0734,1.07395,1.0745,1.07505,1.0756,1.07615,1.0767,1.07725,1.0778,1.07835,1.0789,1.07945,1.08,1.08055,1.0811,1.08165,1.0822,1.08275,1.0833,1.08385,1.0844,1.08495,1.0855,1.08605,1.0866,1.08715,1.0877,1.08825],
"format": ".5f", "grid": true, "gridColor": "#c0c0c0", "gridDash": [3,3], "gridWidth": 1,
"domain": true, "domainColor": "#000000", "domainWidth": 1,
"ticks": true, "tickColor": "#000000", "tickSize": 4,
"labelPadding": 7, "labelFont": "DejaVu Sans", "labelFontSize": 16, "labelColor": "#000000", "labelBaseline": "middle",
"labelOverlap": false, "labelBound": false, "labelFlush": false, "title": null}},
"y2": {"field": "h"}
}
},
{
"data": {"name": "levels"},
"mark": {"type": "rule", "strokeWidth": 1},
"encoding": {
"y": {"field": "p", "type": "quantitative", "scale": {"domain": [1.07202, 1.08841], "nice": false, "zero": false}},
"color": {"field": "g", "type": "nominal", "legend": null,
"scale": {"domain": ["g2","g1","res","g7","g6","g5","piv","sup"], "range": ["#C71585","#FF00FF","#1E90FF","#FF8C00","#FF4500","#556B2F","#1E90FF","#1E90FF"]}},
"strokeDash": {"field": "g", "type": "nominal", "legend": null,
"scale": {"domain": ["g2","g1","res","g7","g6","g5","piv","sup"], "range": [[12,6],[9,5,3,5],[1,0],[9,5,3,5],[12,6],[9,5,3,5],[1,0],[1,0]]}}
}
},
{
"data": {"name": "bid"},
"mark": {"type": "rule", "color": "#c0c0c0", "strokeWidth": 1},
"encoding": {
"y": {"field": "p", "type": "quantitative", "scale": {"domain": [1.07202, 1.08841], "nice": false, "zero": false}}
}
},
{
"data": {"name": "candles"},
"mark": {"type": "bar", "orient": "vertical", "size": 2, "stroke": "#000000", "strokeWidth": 1},
"encoding": {
"x": {"field": "i", "type": "quantitative", "scale": {"domain": [-0.875, 935.125], "nice": false, "zero": false}},
"y": {"field": "o", "type": "quantitative", "scale": {"domain": [1.07202, 1.08841], "nice": false, "zero": false}},
"y2": {"field": "c"},
"fill": {"condition": {"test": "datum.c >= datum.o", "value": "#ffffff"}, "value": "#000000"}
}
},
{
"data": {"name": "levels"},
"mark": {"type": "text", "font": "Liberation Sans", "fontSize": 21, "align": "center", "baseline": "middle", "dy": 11},
"encoding": {
"x": {"datum": 496, "type": "quantitative", "scale": {"domain": [-0.875, 935.125], "nice": false, "zero": false}},
"y": {"field": "p", "type": "quantitative", "scale": {"domain": [1.07202, 1.08841], "nice": false, "zero": false}},
"text": {"field": "t"},
"color": {"field": "g", "type": "nominal", "legend": null,
"scale": {"domain": ["g2","g1","res","g7","g6","g5","piv","sup"], "range": ["#C71585","#FF00FF","#1E90FF","#FF8C00","#FF4500","#556B2F","#1E90FF","#1E90FF"]}}
}
},
{
"data": {"name": "crosses"},
"mark": {"type": "point", "filled": true, "shape": "M-1,-0.7L-0.7,-1L0,-0.3L0.7,-1L1,-0.7L0.3,0L1,0.7L0.7,1L0,0.3L-0.7,1L-1,0.7L-0.3,0Z", "size": 1250, "color": "#888888", "opacity": 0.35, "strokeWidth": 0},
"encoding": {
"x": {"field": "i", "type": "quantitative", "scale": {"domain": [-0.875, 935.125], "nice": false, "zero": false}},
"y": {"field": "p", "type": "quantitative", "scale": {"domain": [1.07202, 1.08841], "nice": false, "zero": false}}
}
},
{
"data": {"name": "crosses"},
"mark": {"type": "point", "filled": true, "shape": "M-1,-0.7L-0.7,-1L0,-0.3L0.7,-1L1,-0.7L0.3,0L1,0.7L0.7,1L0,0.3L-0.7,1L-1,0.7L-0.3,0Z", "size": 1000, "color": "#EE4040", "opacity": 1, "strokeWidth": 0},
"encoding": {
"x": {"field": "i", "type": "quantitative", "scale": {"domain": [-0.875, 935.125], "nice": false, "zero": false}},
"y": {"field": "p", "type": "quantitative", "scale": {"domain": [1.07202, 1.08841], "nice": false, "zero": false}}
}
},
{
"data": {"name": "bid"},
"mark": {"type": "bar", "orient": "horizontal", "size": 22, "color": "#000000"},
"encoding": {
"y": {"field": "p", "type": "quantitative", "scale": {"domain": [1.07202, 1.08841], "nice": false, "zero": false}},
"x": {"datum": 935.8, "type": "quantitative", "scale": {"domain": [-0.875, 935.125], "nice": false, "zero": false}},
"x2": {"datum": 955.8}
}
},
{
"data": {"name": "levels"},
"mark": {"type": "bar", "orient": "horizontal", "size": 22},
"encoding": {
"y": {"field": "p", "type": "quantitative", "scale": {"domain": [1.07202, 1.08841], "nice": false, "zero": false}},
"x": {"datum": 935.8, "type": "quantitative", "scale": {"domain": [-0.875, 935.125], "nice": false, "zero": false}},
"x2": {"datum": 955.8},
"color": {"field": "g", "type": "nominal", "legend": null,
"scale": {"domain": ["g2","g1","res","g7","g6","g5","piv","sup"], "range": ["#C71585","#FF00FF","#1E90FF","#FF8C00","#FF4500","#556B2F","#1E90FF","#1E90FF"]}}
}
},
{
"data": {"name": "levels"},
"mark": {"type": "text", "font": "DejaVu Sans", "fontSize": 16, "align": "center", "baseline": "middle", "color": "#ffffff"},
"encoding": {
"y": {"field": "p", "type": "quantitative", "scale": {"domain": [1.07202, 1.08841], "nice": false, "zero": false}},
"x": {"datum": 945.8, "type": "quantitative", "scale": {"domain": [-0.875, 935.125], "nice": false, "zero": false}},
"text": {"field": "p", "type": "quantitative", "format": ".5f"}
}
},
{
"data": {"name": "bid"},
"mark": {"type": "point", "shape": "triangle-down", "filled": true, "color": "#000000", "size": 70, "strokeWidth": 0},
"encoding": {
"x": {"datum": 2.4, "type": "quantitative", "scale": {"domain": [-0.875, 935.125], "nice": false, "zero": false}},
"y": {"datum": 1.08831, "type": "quantitative", "scale": {"domain": [1.07202, 1.08841], "nice": false, "zero": false}}
}
},
{
"data": {"name": "bid"},
"mark": {"type": "text", "font": "DejaVu Sans", "fontSize": 16, "align": "left", "baseline": "middle", "color": "#000000", "text": "EURUSD,M15\u00a0 1.08552 1.08559 1.08552 1.08558"},
"encoding": {
"x": {"datum": 6.9, "type": "quantitative", "scale": {"domain": [-0.875, 935.125], "nice": false, "zero": false}},
"y": {"datum": 1.08831, "type": "quantitative", "scale": {"domain": [1.07202, 1.08841], "nice": false, "zero": false}}
}
}
]
}
